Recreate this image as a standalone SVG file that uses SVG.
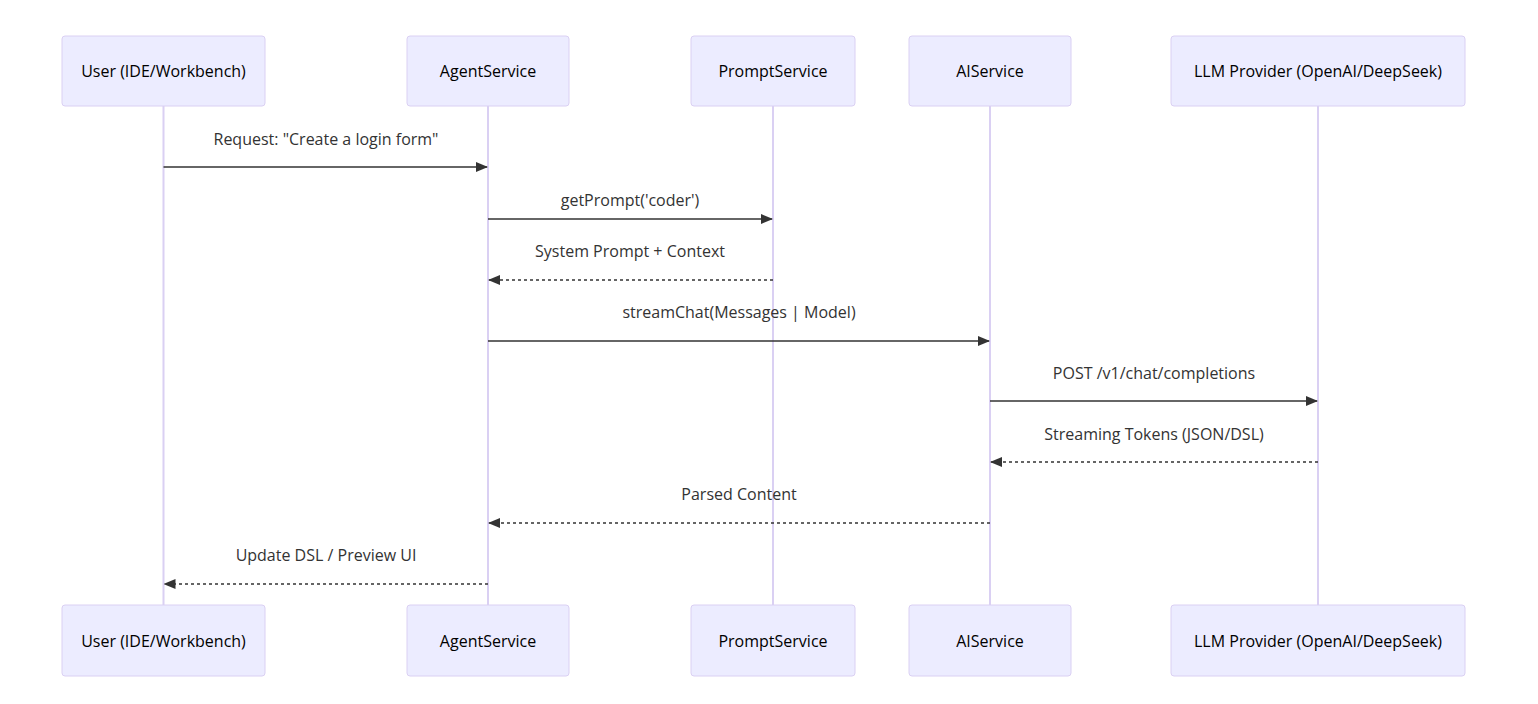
<svg xmlns="http://www.w3.org/2000/svg" width="1538" height="704" viewBox="0 0 1538 704">
<style>
.actor{fill:#ECECFF;stroke:#DAD0F3;stroke-width:1}
.atext{font-family:"Open Sans","Liberation Sans",Arial,sans-serif;font-size:16px;fill:#000;text-anchor:middle;dominant-baseline:central}
.life{stroke:#DAD0F3;stroke-width:2}
.msg{stroke:#333;stroke-width:1.5;fill:none}
.dash{stroke-dasharray:3,3}
.mtext{font-family:"Open Sans","Liberation Sans",Arial,sans-serif;font-size:16px;fill:#333;text-anchor:middle;dominant-baseline:central}
</style>
<defs>
<marker id="arrow" viewBox="0 0 12 10" refX="11" refY="5" markerWidth="12" markerHeight="10" markerUnits="userSpaceOnUse" orient="auto">
<path d="M0,0 L12,5 L0,10 z" fill="#333"/>
</marker>
</defs>
<g id="lifelines">
<line class="life" x1="163.5" y1="106" x2="163.5" y2="605"/>
<line class="life" x1="488" y1="106" x2="488" y2="605"/>
<line class="life" x1="773" y1="106" x2="773" y2="605"/>
<line class="life" x1="990" y1="106" x2="990" y2="605"/>
<line class="life" x1="1318" y1="106" x2="1318" y2="605"/>
</g>
<g id="actor-user-top"><rect class="actor" x="62" y="36" width="203" height="70" rx="3"/><text class="atext" x="163.5" y="71">User (IDE/Workbench)</text></g>
<g id="actor-agent-top"><rect class="actor" x="407" y="36" width="162" height="70" rx="3"/><text class="atext" x="488" y="71">AgentService</text></g>
<g id="actor-prompt-top"><rect class="actor" x="691" y="36" width="164" height="70" rx="3"/><text class="atext" x="773" y="71">PromptService</text></g>
<g id="actor-ai-top"><rect class="actor" x="909" y="36" width="162" height="70" rx="3"/><text class="atext" x="990" y="71">AIService</text></g>
<g id="actor-llm-top"><rect class="actor" x="1171" y="36" width="294" height="70" rx="3"/><text class="atext" x="1318" y="71">LLM Provider (OpenAI/DeepSeek)</text></g>
<g id="actor-user-bottom"><rect class="actor" x="62" y="605" width="203" height="71" rx="3"/><text class="atext" x="163.5" y="641">User (IDE/Workbench)</text></g>
<g id="actor-agent-bottom"><rect class="actor" x="407" y="605" width="162" height="71" rx="3"/><text class="atext" x="488" y="641">AgentService</text></g>
<g id="actor-prompt-bottom"><rect class="actor" x="691" y="605" width="164" height="71" rx="3"/><text class="atext" x="773" y="641">PromptService</text></g>
<g id="actor-ai-bottom"><rect class="actor" x="909" y="605" width="162" height="71" rx="3"/><text class="atext" x="990" y="641">AIService</text></g>
<g id="actor-llm-bottom"><rect class="actor" x="1171" y="605" width="294" height="71" rx="3"/><text class="atext" x="1318" y="641">LLM Provider (OpenAI/DeepSeek)</text></g>
<g id="messages">
<line class="msg" x1="163.5" y1="167" x2="487" y2="167" marker-end="url(#arrow)"/>
<text class="mtext" x="326" y="139">Request: "Create a login form"</text>
<line class="msg" x1="488" y1="219" x2="772" y2="219" marker-end="url(#arrow)"/>
<text class="mtext" x="630" y="200">getPrompt('coder')</text>
<line class="msg dash" x1="773" y1="280" x2="489" y2="280" marker-end="url(#arrow)"/>
<text class="mtext" x="630" y="251">System Prompt + Context</text>
<line class="msg" x1="488" y1="341" x2="989" y2="341" marker-end="url(#arrow)"/>
<text class="mtext" x="739" y="312">streamChat(Messages | Model)</text>
<line class="msg" x1="990" y1="401" x2="1317" y2="401" marker-end="url(#arrow)"/>
<text class="mtext" x="1154" y="373">POST /v1/chat/completions</text>
<line class="msg dash" x1="1318" y1="462" x2="991" y2="462" marker-end="url(#arrow)"/>
<text class="mtext" x="1154" y="434">Streaming Tokens (JSON/DSL)</text>
<line class="msg dash" x1="990" y1="523" x2="489" y2="523" marker-end="url(#arrow)"/>
<text class="mtext" x="739" y="494">Parsed Content</text>
<line class="msg dash" x1="488" y1="584" x2="164.5" y2="584" marker-end="url(#arrow)"/>
<text class="mtext" x="326" y="555">Update DSL / Preview UI</text>
</g>
</svg>
